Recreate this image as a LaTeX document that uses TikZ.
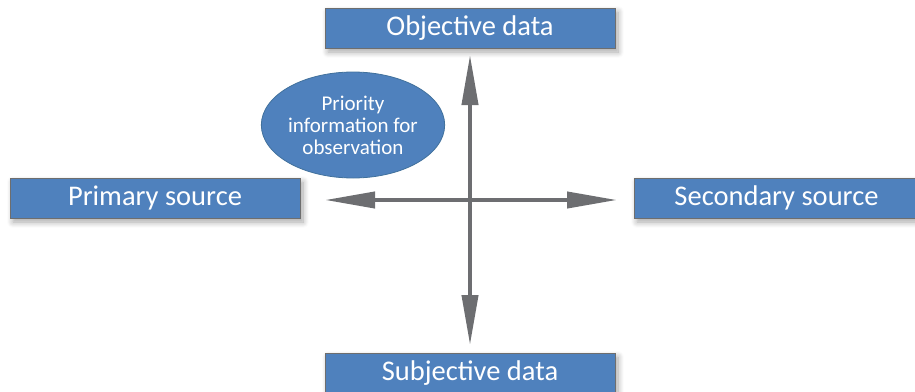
\documentclass[tikz,border=0pt]{standalone}
\usepackage{fontspec}
\setmainfont{Carlito}
\usetikzlibrary{shapes.geometric,arrows.meta,shadows.blur}
\definecolor{boxblue}{HTML}{4F81BD}
\definecolor{boxedge}{HTML}{6E6E6E}
\definecolor{elledge}{HTML}{41719C}
\definecolor{arrowgray}{HTML}{6D6E71}
\tikzset{
  labelbox/.style={draw=boxedge, line width=0.8pt, fill=boxblue, text=white,
    minimum width=290pt, minimum height=40pt, inner sep=0pt, font=\fontsize{28.5}{30}\selectfont,
    blur shadow={shadow xshift=3pt, shadow yshift=-4pt, shadow blur steps=8, shadow blur radius=6pt, shadow opacity=35}},
  bubble/.style={ellipse, draw=elledge, line width=0.8pt, fill=boxblue, text=white,
    minimum width=173pt, minimum height=106pt, inner sep=0pt, align=center,
    font=\fontsize{21}{22}\selectfont},
  axis/.style={draw=arrowgray, line width=4pt, -{Stealth[length=50pt, width=16pt, inset=0pt]}}
}
\begin{document}
\begin{tikzpicture}[x=1pt,y=-1pt]
\useasboundingbox (0,0) rectangle (915,391);
\node[labelbox] (obj) at (470,28) {Objective data};
\node[labelbox] (prim) at (155,198) {Primary source};
\node[labelbox, minimum width=285pt] (sec) at (776.5,198) {Secondary source};
\node[labelbox] (subj) at (470,373) {Subjective data};
\node[bubble] (pri) at (353,125) {Priority\\information for\\observation};
\coordinate (c) at (470,200);
\coordinate (top) at (470,55);
\coordinate (bot) at (470,345);
\coordinate (lft) at (325,200);
\coordinate (rgt) at (617,200);
\draw[axis] (c) -- (top);
\draw[axis] (c) -- (bot);
\draw[axis] (c) -- (lft);
\draw[axis] (c) -- (rgt);
\end{tikzpicture}
\end{document}
